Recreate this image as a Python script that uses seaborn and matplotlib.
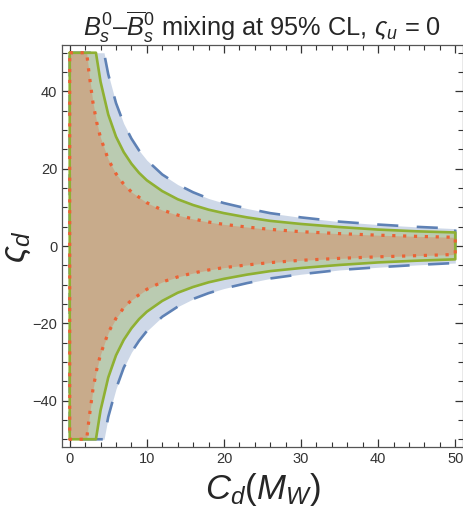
import numpy as np
import matplotlib
matplotlib.use("Agg")
import matplotlib.pyplot as plt
import seaborn as sns
from matplotlib.ticker import MultipleLocator

# Boundaries (C_d on x, varsigma_d on y)
cd_blue = [0, 4.45, 5, 6, 7, 8, 9, 10, 12, 14, 16, 18, 20, 23, 26, 30, 35, 40, 45, 50]
zd_blue_hi = [50, 50, 44.4, 37.0, 31.7, 27.8, 24.7, 22.2, 18.5, 15.9, 13.9, 12.3, 11.1, 9.7, 8.5, 7.4, 6.3, 5.55, 4.95, 4.5]
zd_blue_lo = [-50, -50, -44.2, -37.0, -31.5, -27.5, -24.5, -22.0, -18.3, -15.7, -13.7, -12.2, -11.0, -9.6, -8.4, -7.3, -6.2, -5.5, -4.9, -4.4]

cd_green = [0, 3.4, 4, 5, 6, 7, 8, 9, 10, 12, 14, 16, 18, 20, 23, 26, 30, 35, 40, 45, 50]
zd_green_hi = [50, 50, 42.5, 34.0, 28.3, 24.3, 21.3, 18.9, 17.0, 14.2, 12.1, 10.6, 9.4, 8.5, 7.4, 6.5, 5.7, 4.9, 4.25, 3.8, 3.5]
zd_green_lo = [-50, -50, -42.5, -34.0, -28.3, -24.3, -21.3, -18.9, -17.0, -14.2, -12.1, -10.6, -9.4, -8.5, -7.4, -6.5, -5.7, -4.9, -4.25, -3.8, -3.45]

cd_red = [0, 2.2, 2.5, 3, 3.5, 4, 5, 6, 7, 8, 10, 12, 14, 16, 18, 20, 23, 26, 30, 35, 40, 45, 50]
zd_red_hi = [50, 50, 44.8, 37.3, 32.0, 28.0, 22.4, 18.7, 16.0, 14.0, 11.2, 9.3, 8.0, 7.0, 6.2, 5.6, 4.9, 4.3, 3.7, 3.2, 2.8, 2.5, 2.25]
zd_red_lo = [-50, -50, -44.8, -37.3, -32.0, -28.0, -22.4, -18.7, -16.0, -14.0, -11.2, -9.3, -8.0, -7.0, -6.2, -5.6, -4.9, -4.3, -3.7, -3.2, -2.8, -2.5, -2.2]

col_blue = "#5E81B5"
col_green = "#8FB032"
col_red = "#EB6235"

sns.set_style("ticks")
plt.rcParams["font.family"] = ["Liberation Sans", "DejaVu Sans"]
plt.rcParams["mathtext.fontset"] = "custom"
plt.rcParams["mathtext.rm"] = "Liberation Sans"
plt.rcParams["mathtext.it"] = "Liberation Sans:italic"

fig = plt.figure(figsize=(4.64, 5.08), dpi=100)
ax = fig.add_axes([62 / 464, 1 - 447 / 508, 401 / 464, 402 / 508])

regions = [
    (cd_blue, zd_blue_hi, zd_blue_lo, col_blue, (0, (8, 7)), 1.9),
    (cd_green, zd_green_hi, zd_green_lo, col_green, "-", 1.9),
    (cd_red, zd_red_hi, zd_red_lo, col_red, (0, (1, 2.4)), 2.3),
]

for cd, hi, lo, col, ls, lw in regions:
    ax.fill_between(cd, lo, hi, color=col, alpha=0.3, lw=0)

for cd, hi, lo, col, ls, lw in regions:
    # closed outline: up the left edge, along the upper curve, back along the lower one
    xs = np.concatenate([cd, cd[::-1]])
    ys = np.concatenate([hi, lo[::-1]])
    xs = np.append(xs, xs[0])
    ys = np.append(ys, ys[0])
    sns.lineplot(x=xs, y=ys, sort=False, estimator=None, ax=ax,
                 color=col, lw=lw, linestyle=ls)

ax.set_xlim(-1, 51)
ax.set_ylim(-52, 52)
ax.xaxis.set_major_locator(MultipleLocator(10))
ax.xaxis.set_minor_locator(MultipleLocator(2))
ax.yaxis.set_major_locator(MultipleLocator(20))
ax.yaxis.set_minor_locator(MultipleLocator(5))
ax.tick_params(which="both", direction="in", top=True, right=True,
               colors="#333333", labelsize=10.5)
ax.tick_params(which="major", length=6, width=0.9)
ax.tick_params(which="minor", length=3.5, width=0.8)
for s in ax.spines.values():
    s.set_color("#555555")
    s.set_linewidth(0.9)

ax.set_xlabel(r"$C_d(M_W)$", fontsize=25, labelpad=4)
ax.set_ylabel(r"$\varsigma_d$", fontsize=25)
ax.yaxis.set_label_coords(-0.072, 0.5)
ax.set_title(r"$B_s^0$–$\overline{B}_s^0$ mixing at 95% CL, $\varsigma_u$ = 0",
             fontsize=18.3, pad=5)

fig.savefig("out.png", dpi=100)
